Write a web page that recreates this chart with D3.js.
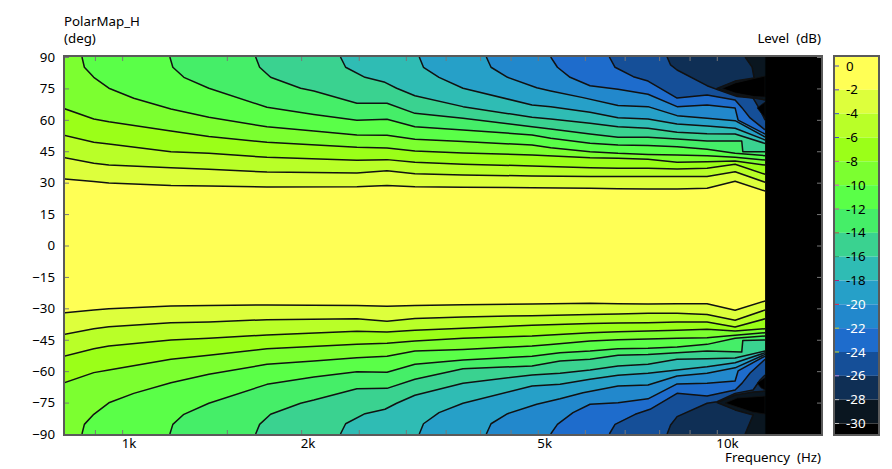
<!DOCTYPE html>
<html><head><meta charset="utf-8">
<script src="https://cdn.jsdelivr.net/npm/d3@7"></script>
<style>html,body{margin:0;padding:0;background:#fff}svg{display:block}text{font-family:"Noto Sans",sans-serif;font-size:13.3px;fill:#000}</style>
</head><body><svg id="c" width="892" height="469"></svg>
<script>
// ---- data: [frequency Hz, angle deg] along every contour ----
const hzCols=[800,896,950,1208,1399,1752,2482,2789,3107,3743,4890,6122,6822,7662,8575,9631,10735,12057];
const deg2Up=[31.8,30.5,29.8,28.6,28.4,27.9,28.1,28.6,28.1,27.8,27.6,27.3,27.1,27.0,27.0,27.3,30.7,26.0];
const deg2Lo=[-32.1,-30.8,-30.2,-28.9,-28.6,-28.4,-28.7,-29.0,-28.6,-28.3,-27.9,-27.6,-27.8,-27.9,-27.8,-27.8,-30.9,-26.5];
const deg4Up=[41.9,39.3,38.4,37.1,36.4,35.1,34.6,35.7,34.3,33.7,33.2,32.9,32.9,32.9,32.9,32.9,35.2,30.2];
const deg4Lo=[-42.4,-39.7,-38.8,-36.9,-36.5,-35.4,-35.0,-36.2,-34.8,-34.1,-33.5,-32.9,-32.7,-32.4,-32.4,-32.9,-35.7,-30.8];
const deg6Up=[52.6,49.3,48.5,44.8,44.0,42.1,40.7,41.0,39.7,38.8,38.0,37.1,36.9,36.9,36.5,36.9,38.8,34.0];
const deg6Lo=[-52.8,-49.3,-48.0,-45.1,-44.3,-42.7,-41.0,-41.3,-40.5,-39.5,-38.1,-37.3,-37.0,-36.9,-36.5,-36.5,-38.9,-35.0];
const deg8Up=[65.3,60.4,59.1,54.7,52.0,49.3,46.9,46.6,45.1,44.2,43.2,41.9,41.6,41.2,39.7,40.0,40.3,38.4];
const deg8Lo=[-65.5,-60.7,-59.4,-54.3,-52.4,-49.3,-47.2,-46.7,-45.6,-44.3,-43.2,-41.6,-41.2,-40.8,-40.5,-40.0,-40.8,-39.7];
const c10Up=[[856,90],[864,85.1],[896,80.3],[950,75.1],[1046,70.3],[1208,65.2],[1399,61.2],[1752,56.7],[2101,54.7],[2482,52.8],[2789,52.6],[3107,50.7],[3743,49.6],[4890,48.0],[5257,46.7],[6122,44.8],[6822,44.0],[7662,43.5],[8575,43.2],[9631,42.9],[10735,42.1],[12057,40.8]];
const c10Lo=[[856,-90],[864,-85.4],[896,-80.6],[950,-75.1],[1046,-70.6],[1208,-65.5],[1399,-61.5],[1752,-56.7],[2101,-55.2],[2482,-53.6],[2789,-52.9],[3107,-50.4],[3743,-49.6],[4890,-48.0],[5257,-47.3],[6122,-45.6],[6822,-45.0],[7662,-44.6],[8575,-44.3],[9631,-44.0],[10735,-42.9],[12057,-41.6]];
const c12Up=[[1203,90],[1217,85.1],[1270,80.3],[1399,75.1],[1752,66.0],[2101,62.6],[2482,59.8],[2789,60.3],[3107,56.7],[3743,55.2],[4890,52.8],[5257,51.2],[6122,48.8],[6822,48.0],[7662,47.7],[8575,47.2],[9631,45.9],[10735,44.0],[12057,42.9]];
const c12Lo=[[1203,-90],[1217,-85.4],[1270,-80.6],[1399,-75.3],[1752,-66.3],[2101,-62.8],[2482,-60.3],[2789,-60.5],[3107,-56.7],[3743,-54.7],[4890,-52.9],[5450,-51.2],[6122,-50.4],[6822,-49.3],[7662,-49.1],[8575,-48.5],[9631,-47.2],[10735,-44.3],[12057,-43.2]];
const c14Up=[[1677,90],[1703,85.1],[1777,80.3],[1996,75.1],[2101,73.8],[2482,67.9],[2789,67.9],[3107,63.1],[3743,60.7],[4890,56.7],[5257,55.6],[6122,53.2],[6822,51.7],[7662,51.7],[8575,50.9],[9631,49.9],[11015,49.9],[11060,44.8],[12057,44.8]];
const c14Lo=[[1677,-90],[1703,-85.4],[1777,-80.6],[1996,-75.3],[2101,-73.8],[2482,-68.4],[2789,-68.2],[3107,-63.9],[3743,-58.8],[4890,-57.5],[5450,-55.2],[6122,-54.3],[6822,-52.4],[7662,-52.0],[8575,-51.2],[9631,-50.4],[11015,-50.9],[11060,-45.3],[12057,-45.1]];
const c16Up=[[2329,90],[2376,85.1],[2561,80.3],[2767,77.9],[2895,75.1],[3107,71.5],[3743,66.3],[4890,61.2],[5257,60.4],[6122,58.4],[6822,56.7],[7662,56.0],[8575,54.1],[9631,53.4],[10735,53.2],[12057,48.7]];
const c16Lo=[[2329,-90],[2376,-85.1],[2561,-80.3],[2767,-78.2],[2895,-75.3],[3107,-71.5],[3743,-65.8],[4890,-61.8],[5450,-61.0],[6122,-59.4],[6822,-57.5],[7662,-56.7],[8575,-54.3],[9631,-54.1],[10735,-53.7],[12057,-50.4]];
const c18Up=[[3160,90],[3212,85.1],[3411,80.3],[3743,75.1],[4890,67.1],[5257,66.3],[6122,63.6],[6822,61.0],[7662,60.4],[8575,58.0],[9631,57.1],[10735,56.0],[12057,50.4]];
const c18Lo=[[3160,-90],[3212,-85.1],[3411,-79.8],[3743,-75.3],[4890,-67.1],[5450,-66.3],[6122,-63.9],[6822,-62.0],[7662,-61.0],[8575,-59.4],[9631,-57.9],[10735,-56.0],[12057,-51.2]];
const c20Up=[[4097,90],[4172,85.1],[4448,80.3],[4980,75.3],[5257,73.8],[5957,70.6],[6822,66.8],[7662,66.3],[8575,62.0],[9631,60.7],[10735,59.6],[12057,51.8]];
const c20Lo=[[4097,-90],[4172,-85.1],[4448,-80.3],[4980,-75.8],[5450,-73.2],[5957,-70.3],[6822,-67.1],[7662,-66.6],[8575,-62.3],[9631,-61.0],[10735,-58.4],[12057,-52.0]];
const c22Up=[[5257,90],[5395,85.1],[5666,80.3],[6122,76.3],[6822,74.6],[7662,72.2],[8575,66.3],[9631,67.1],[10735,65.7],[10860,59.9],[12057,53.2]];
const c22Lo=[[5257,-90],[5395,-85.4],[5731,-79.8],[6122,-75.8],[6822,-75.1],[7662,-73.2],[8575,-66.1],[9631,-65.8],[10735,-64.7],[10860,-59.9],[12057,-52.8]];
const c24Up=[[6597,90],[6744,85.1],[7240,80.6],[7662,78.5],[8575,70.4],[9631,71.9],[10735,69.5],[11030,65.7],[11376,60.9],[12057,55.2]];
const c24Lo=[[6597,-90],[6744,-85.4],[7290,-80.6],[7722,-78.2],[8575,-70.6],[9631,-71.9],[10735,-69.0],[11030,-65.7],[11376,-60.9],[12057,-54.3]];
const c26Up=[[8250,90],[8362,86.2],[8575,83.8],[9631,76.3],[10050,74.3],[10820,71.1],[11510,70.4],[11825,64.7],[12057,59.9]];
const c26Lo=[[8250,-90],[8362,-85.7],[8575,-81.7],[9631,-75.3],[10011,-74.6],[10735,-70.6],[11510,-69.0],[11825,-64.2],[12057,-61.8]];
const c28Up=[[11160,90],[11465,85.2],[11555,80.0],[10735,78.5],[10011,75.0],[10735,71.9],[11555,70.4],[12057,69.5]];
const c28Lo=[[11160,-90],[11510,-80.9],[10735,-78.5],[10011,-75.0],[10735,-71.4],[11510,-70.0],[12057,-69.5]];
const c30Up=[[12057,80.9],[11465,79.5],[10735,77.6],[10207,75.0],[10735,72.8],[11555,71.1],[12057,70.9]];
const c30Lo=[[12057,-71.9],[10820,-72.8],[10327,-75.2],[10820,-77.1],[11465,-79.5],[12057,-80.5]];
const spikeUp=[[12057,68.5],[11690,65.7],[11870,63.3],[12057,60.9]];
const spikeLo=[[12057,-63.0],[11690,-65.7],[11870,-68.0],[12057,-69.0]];
const levels=[-2,-4,-6,-8,-10,-12,-14,-16,-18,-20,-22,-24,-26,-28,-30];
const bandColors=["#ffff55","#ddff3c","#b9ff28","#9bff18","#7cff30","#5aff48","#45ee68","#3ad290","#2fbcb4","#26a0c8","#2288cc","#1e6ccc","#154f98","#0f2f55","#0a1620","#000000"];
const tickColors=["#4444cc","#5a3ccf","#3355cc","#4444cc","#cc44aa","#dd44cc","#cc44aa","#aa5544","#339966","#aa2277","#dd2244","#cccc22","#ccdd22","#bb88dd","#bbbbbb","#bbbbbb"];
const barTicks=[0,-2,-4,-6,-8,-10,-12,-14,-16,-18,-20,-22,-24,-26,-28,-30];
const yTicks=[90,75,60,45,30,15,0,-15,-30,-45,-60,-75,-90];
const xMinor=[900,1000,1500,2000,2500,3000,3500,4000,4500,5000,6000,7000,8000,9000,10000];
const xLabeled={1000:"1k",2000:"2k",5000:"5k",10000:"10k"};
const hzRange=[800,15000], noDataFrom=12057;

const zip=(d)=>hzCols.map((h,i)=>[h,d[i]]);
const upper=[zip(deg2Up),zip(deg4Up),zip(deg6Up),zip(deg8Up),c10Up,c12Up,c14Up,c16Up,c18Up,c20Up,c22Up,c24Up,c26Up,c28Up];
const lower=[zip(deg2Lo),zip(deg4Lo),zip(deg6Lo),zip(deg8Lo),c10Lo,c12Lo,c14Lo,c16Lo,c18Lo,c20Lo,c22Lo,c24Lo,c26Lo,c28Lo];

const L=65,R=821,T=57,B=434;
const x=d3.scaleLog().domain(hzRange).range([L-0.5,R+0.5]);
const y=d3.scaleLinear().domain([90,-90]).range([T,B]);
const svg=d3.select("#c");
svg.append("defs").append("clipPath").attr("id","plot").append("rect").attr("x",L).attr("y",T).attr("width",R-L).attr("height",B-T);
const g=svg.append("g").attr("clip-path","url(#plot)");
g.append("rect").attr("x",L).attr("y",T).attr("width",R-L).attr("height",B-T).attr("fill",bandColors[0]);
const line=d3.line().x(d=>x(d[0])).y(d=>y(d[1]));
const STROKE="#111",SW=1.5;
function region(pts,color){
  const edge=pts[0][1]>0?90:-90;
  const closed=pts.concat([[noDataFrom,edge]]);
  if(Math.abs(pts[0][1])!==90) closed.push([hzRange[0],edge]);
  g.append("path").attr("d",line(closed)+"Z").attr("fill",color).attr("stroke",color).attr("stroke-width",.3);
}
upper.forEach((pts,i)=>{region(pts,bandColors[i+1]);region(lower[i],bandColors[i+1]);});
upper.forEach((pts,i)=>{
  [pts,lower[i]].forEach(p=>g.append("path").attr("d",line(p)).attr("fill","none").attr("stroke",STROKE).attr("stroke-width",SW).attr("stroke-linejoin","round"));
});
[c30Up,c30Lo,spikeUp,spikeLo].forEach(p=>g.append("path").attr("d",line(p)+"Z").attr("fill","#000").attr("stroke",STROKE).attr("stroke-width",.8));
g.append("rect").attr("x",x(noDataFrom)).attr("y",T).attr("width",x(hzRange[1])-x(noDataFrom)).attr("height",B-T).attr("fill","#000");

// axes
const gray="#5a5a5a";
const axB=d3.axisBottom(x).tickValues(xMinor).tickSize(-4).tickPadding(11).tickFormat(d=>xLabeled[d]||"");
const axT=d3.axisTop(x).tickValues(xMinor).tickSize(-4).tickFormat("");
const axL=d3.axisLeft(y).tickValues(yTicks).tickSize(-4).tickPadding(10);
const axR=d3.axisRight(y).tickValues(yTicks).tickSize(-4).tickFormat("");
[[axB,`translate(0,${B})`],[axT,`translate(0,${T})`],[axL,`translate(${L},0)`],[axR,`translate(${R},0)`]].forEach(([a,t])=>{
  const s=svg.append("g").attr("transform",t).call(a);
  s.select(".domain").remove();
  s.selectAll("line").attr("stroke","#777");
  s.selectAll("text").style("font-family",'"Noto Sans",sans-serif').style("font-size","13.3px").attr("fill","#000");
});
svg.selectAll("g text").filter(function(){return Object.values(xLabeled).includes(this.textContent)}).attr("text-anchor","start").attr("dy",".2em").attr("x",-1);
svg.append("rect").attr("x",L-1).attr("y",T-1).attr("width",R-L+2).attr("height",B-T+2).attr("fill","none").attr("stroke",gray).attr("stroke-width",2);

// titles
const t=(s,px,py,a)=>svg.append("text").attr("x",px).attr("y",py).attr("text-anchor",a||"start").attr("xml:space","preserve").text(s);
t("PolarMap_H",64,26);
t("(deg)",64,43);
t("Level  (dB)",821,43,"end");
t("Frequency  (Hz)",821,462,"end");

// colour bar
const cb=d3.scaleLinear().domain([0,-30]).range([66,423.5]);
const bX=835,bW=43,bT=57,bB=434;
const edges=[cb.invert(bT)].concat(levels).concat([cb.invert(bB)]);
bandColors.forEach((c,i)=>svg.append("rect").attr("x",bX).attr("width",bW).attr("y",cb(edges[i])).attr("height",cb(edges[i+1])-cb(edges[i])).attr("fill",c));
barTicks.forEach((v,i)=>{
  svg.append("line").attr("x1",bX).attr("x2",bX+4).attr("y1",cb(v)).attr("y2",cb(v)).attr("stroke",tickColors[i]);
  svg.append("text").attr("x",bX+11).attr("y",cb(v)+4.5).style("fill",v<=-20?"#fff":"#000").text(v);
});
svg.append("rect").attr("x",bX-1).attr("y",bT-1).attr("width",bW+2).attr("height",bB-bT+2).attr("fill","none").attr("stroke",gray).attr("stroke-width",2);
</script></body></html>
